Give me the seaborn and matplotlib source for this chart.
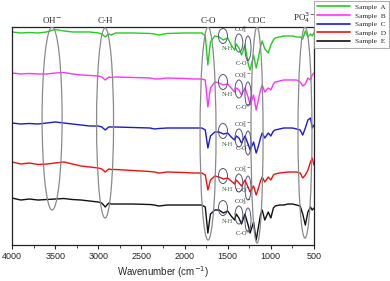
import matplotlib
matplotlib.use("Agg")
import matplotlib.pyplot as plt
import seaborn as sns
from matplotlib.patches import Ellipse
from matplotlib.ticker import MultipleLocator
from pandas import DataFrame

# wavenumbers (cm-1) shared by all spectra
wavenumber = [4000, 3900, 3800, 3700, 3600, 3500, 3400, 3300, 3200, 3100,
              3000, 2960, 2920, 2880, 2850, 2800, 2600, 2400, 2350, 2300,
              2200, 2000, 1900, 1800, 1760, 1730, 1700, 1650, 1600, 1550,
              1500, 1460, 1420, 1400, 1370, 1340, 1300, 1260, 1240, 1200,
              1170, 1150, 1120, 1100, 1070, 1030, 1000, 970, 950, 900,
              850, 800, 750, 700, 660, 630, 600, 570, 540, 520, 500]

# stacked transmittance (a.u.)
sample_a = [213, 212, 212.5, 212, 213, 215.5, 214, 213, 213, 213,
            212, 211, 208, 211, 210, 212, 212, 211.5, 211, 210,
            211.5, 212, 212, 212, 209, 180, 203, 209, 208, 205,
            207, 200, 195, 201, 197, 190, 200, 180, 175, 190,
            177, 185, 198, 204, 196, 192, 200, 205, 207, 208,
            209, 209, 209, 208, 208, 206, 214, 208, 211, 209, 212]
sample_b = [172, 171, 171.5, 171, 171, 172, 172.5, 171, 170, 169.5,
            169, 168, 165, 168, 167.5, 168, 167.5, 167, 166, 166,
            167, 166.5, 166, 166, 165, 138, 157, 163, 162, 160,
            161, 157, 153, 157, 155, 150, 157, 147, 140, 150,
            135, 143, 155, 160, 153, 157, 155, 161, 163, 164,
            165, 165, 165, 165, 163, 159, 161, 167, 165, 170, 172]
sample_c = [122, 121, 121.5, 121, 122, 123, 122, 121, 120, 119,
            119, 118, 115, 118, 118, 118, 117.5, 117, 116, 116.5,
            117, 117, 117, 117, 115, 97, 109, 113, 113, 111,
            112, 108, 105, 109, 107, 102, 109, 100, 95, 103,
            92, 97, 107, 112, 107, 112, 109, 114, 115, 116,
            117, 117, 117, 116, 115, 110, 117, 125, 127, 117, 120]
sample_d = [83, 81, 82, 80.5, 81, 82, 83, 81, 79, 78,
            77, 76, 73, 76, 75.5, 75.5, 74.5, 73.5, 73, 72,
            73, 72.5, 72, 72, 70, 55, 65, 69, 68, 66,
            67, 64, 61, 65, 62, 59, 65, 57, 53, 59,
            50, 55, 64, 68, 63, 68, 65, 70, 71, 72,
            72.5, 73, 73, 73, 72, 67, 70, 75, 83, 87, 80]
sample_e = [47, 45, 46, 45, 45.5, 46, 46.5, 45.5, 45, 44,
            43, 42, 38, 42, 41, 41, 41, 40.5, 40, 39,
            40, 40, 40, 40, 38, 12, 31, 35, 35, 32,
            34, 29, 25, 31, 27, 21, 31, 19, 12, 23,
            5, 15, 30, 35, 25, 33, 27, 37, 39, 40,
            40, 41, 41, 40, 39, 31, 20, 33, 38, 35, 37]

sample_names = ["Sample  A", "Sample  B", "Sample  C", "Sample  D", "Sample  E"]
sample_colors = ["#22cc22", "#ff33ff", "#1a1acc", "#ee1111", "#111111"]

# band assignments: label, position (cm-1)
band_labels = ["OH$^{-}$", "C-H", "C-O", "COC", "PO$_4^{3-}$"]
band_positions = [3536, 2922, 1728, 1160, 604]

df = DataFrame({
    "wavenumber": wavenumber * 5,
    "T": sample_a + sample_b + sample_c + sample_d + sample_e,
    "sample": [n for n in sample_names for _ in wavenumber],
})

sns.set_style("ticks")
plt.rcParams["font.family"] = ["Liberation Sans", "DejaVu Sans"]

fig = plt.figure(figsize=(3.9, 2.81), dpi=100)
ax = fig.add_axes([0.031, 0.128, 0.774, 0.776])

sns.lineplot(data=df, x="wavenumber", y="T", hue="sample", palette=sample_colors,
             sort=False, estimator=None, lw=1.0, ax=ax, legend=False)

ax.set_xlim(4000, 500)
ax.set_ylim(0, 218)
ax.set_yticks([])
ax.set_ylabel("")
ax.xaxis.set_minor_locator(MultipleLocator(250))
ax.set_xticks([4000, 3500, 3000, 2500, 2000, 1500, 1000, 500])
ax.set_xticklabels(["4000", "3500", "3000", "2500", "2000", "1500", "1000", "500"])
ax.tick_params(axis="x", which="major", length=3, width=0.8, labelsize=6.5, pad=2)
ax.tick_params(axis="x", which="minor", length=2, width=0.6)
ax.set_xlabel("Wavenumber (cm$^{-1}$)", fontsize=7, labelpad=2)
for s in ax.spines.values():
    s.set_linewidth(0.9)
    s.set_color("#222222")

serif = ["Liberation Serif", "DejaVu Serif"]

# big gray ellipses marking the bands
big = [(232, 126.5, 183), (197, 122, 190), (185, 111.5, 213),
       (140, 110, 216), (162, 112.5, 211)]
for cx, (w, cy, h), lab in zip(band_positions, big, band_labels):
    ax.add_patch(Ellipse((cx, cy), w, h, fill=False, ec="#8a8a8a", lw=0.9, zorder=3))
    ax.text(cx, 220, lab, ha="center", va="bottom", fontsize=6.5, family=serif,
            clip_on=False)

# small ellipses and labels on every spectrum
baselines = [212, 166, 117, 72, 40]
co_offsets = [30, 28, 20, 17, 28]
for b, co in zip(baselines, co_offsets):
    ax.add_patch(Ellipse((1555, b - 3), 105, 15, fill=False, ec="#555577", lw=0.7, zorder=3))
    ax.add_patch(Ellipse((1370, b - 10), 90, 18, fill=False, ec="#555577", lw=0.7, zorder=3))
    ax.add_patch(Ellipse((1265, b - 15), 70, 24, fill=False, ec="#555577", lw=0.7, zorder=3))
    ax.text(1500, b - 16, "N-H", ha="center", va="center", fontsize=4.5,
            family=serif, color="#336633")
    ax.text(1330, b + 3, "CO$_3^{2-}$", ha="center", va="center", fontsize=4.5,
            family=serif, color="#333333")
    ax.text(1320, b - co, "C-O$^{-}$", ha="center", va="center", fontsize=4.5,
            family=serif, color="#333333")

handles = [plt.Line2D([], [], color=c, lw=1.2) for c in sample_colors]
leg = fig.legend(handles, sample_names, loc="upper right", bbox_to_anchor=(1.0, 1.0),
                 prop={"family": serif, "size": 5.2}, frameon=True, fancybox=False,
                 handlelength=4.5, handletextpad=0.7, labelspacing=0.35,
                 borderpad=0.45, borderaxespad=0.1)
leg.get_frame().set_edgecolor("#999999")
leg.get_frame().set_linewidth(0.8)

fig.savefig("out.png", dpi=100)
